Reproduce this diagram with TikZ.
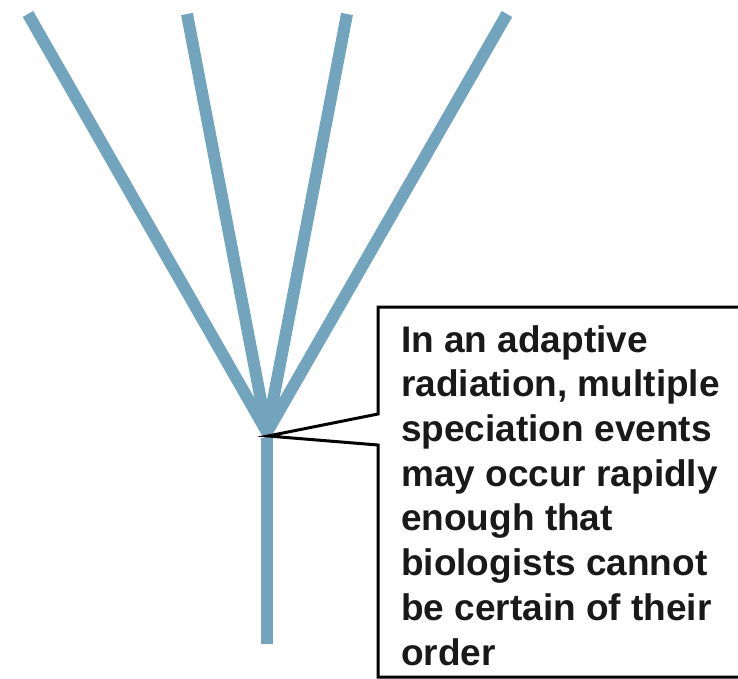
\documentclass[tikz,border=0pt]{standalone}
\usepackage{fontspec}
\setmainfont{Liberation Sans}
\definecolor{branch}{RGB}{114,164,190}
\begin{document}
\begin{tikzpicture}[x=1pt,y=-1pt,
  limb/.style={draw=branch,line width=12pt,line cap=butt},
  callout/.style={draw=black,line width=3pt,line join=miter,fill=white},
  labeltext/.style={anchor=base west,inner sep=0pt,align=left,
    font=\fontsize{37}{44.7}\bfseries\selectfont,text=black!90}]
\useasboundingbox (0,0) rectangle (738,678);
\clip (0,0) rectangle (738,678);
\coordinate (root) at (267,432);
\coordinate (base) at (267,644);
\coordinate (t1) at (28,14);
\coordinate (t2) at (187,14);
\coordinate (t3) at (347,14);
\coordinate (t4) at (507,14);
\foreach \t in {t1,t2,t3,t4} \draw[limb] (root) -- (\t);
\draw[limb] ([yshift=-6pt]root) -- (base);
\fill[branch] (root) circle (6pt);
\coordinate (tip) at (268,436);
\coordinate (bt) at (378,307);
\coordinate (bb) at (378,677);
\draw[callout] (745,307) -- (bt) -- (378,414) -- (tip) -- (378,445) -- (bb) -- (745,677);
\node[labeltext] (label) at (401,665) {In an adaptive\\radiation, multiple\\speciation events\\may occur rapidly\\enough that\\biologists cannot\\be certain of their\\order};
\end{tikzpicture}
\end{document}
